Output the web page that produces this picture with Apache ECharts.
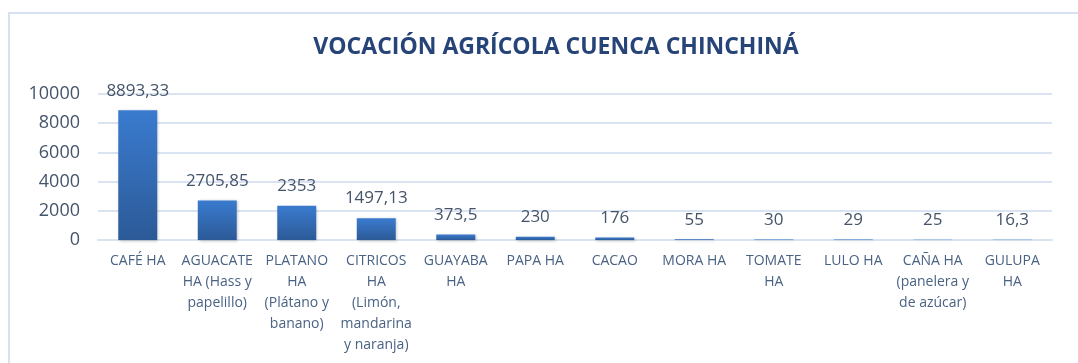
<!DOCTYPE html>
<html>
<head>
<meta charset="utf-8">
<title>Vocación agrícola cuenca Chinchiná</title>
<script src="https://cdn.jsdelivr.net/npm/echarts@6/dist/echarts.min.js"></script>
<style>
  html, body { margin: 0; padding: 0; background: #fff; }
  #chart { width: 1078px; height: 363px; }
</style>
</head>
<body>
<div id="chart"></div>
<script>
// Hectares per crop in the Chinchiná basin
const categories = [
  'CAFÉ HA',
  'AGUACATE\nHA (Hass y\npapelillo)',
  'PLATANO\nHA\n(Plátano y\nbanano)',
  'CITRICOS\nHA\n(Limón,\nmandarina\ny naranja)',
  'GUAYABA\nHA',
  'PAPA HA',
  'CACAO',
  'MORA HA',
  'TOMATE\nHA',
  'LULO HA',
  'CAÑA HA\n(panelera y\nde azúcar)',
  'GULUPA\nHA'
];
const hectares = [8893.33, 2705.85, 2353, 1497.13, 373.5, 230, 176, 55, 30, 29, 25, 16.3];
const yTicks = [0, 2000, 4000, 6000, 8000, 10000];

const textColor = '#44546A';
const font = '"Open Sans", "Noto Sans", sans-serif';

const chart = echarts.init(document.getElementById('chart'), null, { renderer: 'canvas' });

chart.setOption({
  animation: false,
  backgroundColor: '#ffffff',
  title: {
    text: 'VOCACIÓN AGRÍCOLA CUENCA CHINCHINÁ',
    left: 551,
    textAlign: 'center',
    top: 31,
    textStyle: { fontFamily: font, fontSize: 23, fontWeight: 'bold', color: '#264478' }
  },
  graphic: [{
    type: 'rect',
    silent: true,
    shape: { x: 9, y: 13, width: 1200, height: 500 },
    style: { fill: 'none', stroke: '#D6E1F2', lineWidth: 2 }
  }],
  grid: { left: 98, right: 26, top: 94, bottom: 123, containLabel: false },
  xAxis: {
    type: 'category',
    data: categories,
    axisLine: { show: true, lineStyle: { color: '#D9E3F1', width: 2 } },
    axisTick: { show: false },
    axisLabel: {
      interval: 0,
      margin: 11,
      fontFamily: font,
      fontSize: 14,
      lineHeight: 21,
      color: '#4A6283',
      verticalAlign: 'top'
    }
  },
  yAxis: {
    type: 'value',
    min: yTicks[0],
    max: yTicks[yTicks.length - 1],
    interval: 2000,
    axisLine: { show: false },
    axisTick: { show: false },
    splitLine: { lineStyle: { color: '#D9E3F1', width: 2 } },
    axisLabel: {
      margin: 18,
      fontFamily: font,
      fontSize: 18,
      color: textColor,
      formatter: v => String(v)
    }
  },
  series: [{
    type: 'bar',
    data: hectares,
    barWidth: '49%',
    itemStyle: {
      color: new echarts.graphic.LinearGradient(0, 0, 0, 1, [
        { offset: 0, color: '#3A7BCF' },
        { offset: 1, color: '#2C5A97' }
      ]),
      shadowColor: 'rgba(0,0,0,0.25)',
      shadowBlur: 3,
      shadowOffsetX: 1,
      shadowOffsetY: 1
    },
    label: {
      show: true,
      position: 'top',
      distance: 11,
      fontFamily: font,
      fontSize: 17,
      color: textColor,
      formatter: p => String(p.value).replace('.', ',')
    }
  }]
});
</script>
</body>
</html>
